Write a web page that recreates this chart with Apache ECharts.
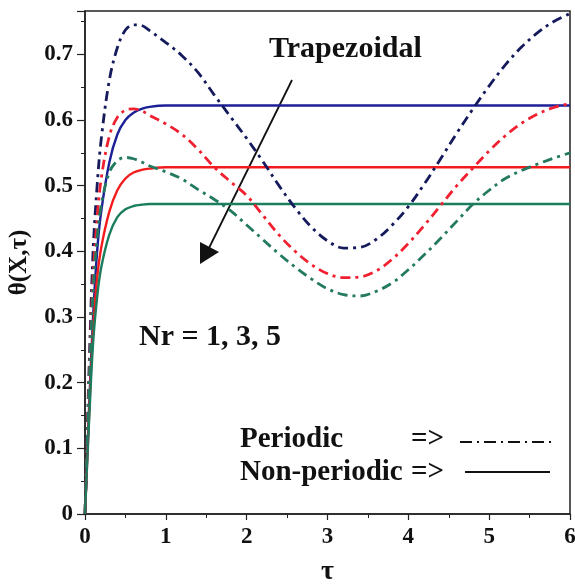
<!DOCTYPE html>
<html>
<head>
<meta charset="utf-8">
<script src="https://cdn.jsdelivr.net/npm/echarts@6/dist/echarts.min.js"></script>
<style>
  html, body { margin: 0; padding: 0; background: #fff; }
  #main { width: 575px; height: 586px; }
</style>
</head>
<body>
<div id="main"></div>
<script>
// tau values shared by every curve
var tau = [0, 0.05, 0.1, 0.15, 0.2, 0.3, 0.4, 0.5, 0.6, 0.7, 0.8, 1.0, 1.2, 1.4, 1.6, 1.8, 2.0, 2.2, 2.4, 2.6, 2.8, 3.0, 3.2, 3.4, 3.6, 3.8, 4.0, 4.2, 4.4, 4.6, 4.8, 5.0, 5.2, 5.4, 5.6, 5.8, 6.0];

// periodic (dash-dot), Nr = 1, 3, 5
var periodicBlue = [0, 0.22, 0.40, 0.50, 0.57, 0.66, 0.71, 0.737, 0.745, 0.744, 0.736, 0.718, 0.698, 0.672, 0.638, 0.605, 0.572, 0.537, 0.500, 0.466, 0.437, 0.416, 0.405, 0.406, 0.418, 0.440, 0.468, 0.503, 0.541, 0.580, 0.617, 0.652, 0.684, 0.711, 0.733, 0.750, 0.762];
var periodicRed = [0, 0.20, 0.36, 0.45, 0.51, 0.575, 0.604, 0.615, 0.617, 0.614, 0.607, 0.594, 0.578, 0.555, 0.528, 0.506, 0.485, 0.455, 0.425, 0.400, 0.380, 0.366, 0.360, 0.361, 0.370, 0.388, 0.412, 0.440, 0.470, 0.500, 0.527, 0.553, 0.576, 0.595, 0.609, 0.619, 0.625];
var periodicGreen = [0, 0.19, 0.34, 0.42, 0.47, 0.52, 0.538, 0.543, 0.541, 0.536, 0.530, 0.521, 0.510, 0.494, 0.479, 0.462, 0.440, 0.418, 0.396, 0.376, 0.358, 0.343, 0.334, 0.332, 0.339, 0.352, 0.372, 0.395, 0.420, 0.446, 0.472, 0.493, 0.511, 0.523, 0.533, 0.542, 0.550];

// non-periodic (solid), Nr = 1, 3, 5
var solidBlue = [0, 0.16, 0.30, 0.40, 0.46, 0.535, 0.578, 0.600, 0.611, 0.617, 0.620, 0.622, 0.622, 0.622, 0.622, 0.622, 0.622, 0.622, 0.622, 0.622, 0.622, 0.622, 0.622, 0.622, 0.622, 0.622, 0.622, 0.622, 0.622, 0.622, 0.622, 0.622, 0.622, 0.622, 0.622, 0.622, 0.622];
var solidRed = [0, 0.15, 0.28, 0.36, 0.405, 0.460, 0.493, 0.511, 0.520, 0.524, 0.526, 0.528, 0.528, 0.528, 0.528, 0.528, 0.528, 0.528, 0.528, 0.528, 0.528, 0.528, 0.528, 0.528, 0.528, 0.528, 0.528, 0.528, 0.528, 0.528, 0.528, 0.528, 0.528, 0.528, 0.528, 0.528, 0.528];
var solidGreen = [0, 0.14, 0.26, 0.33, 0.375, 0.425, 0.452, 0.464, 0.469, 0.471, 0.472, 0.472, 0.472, 0.472, 0.472, 0.472, 0.472, 0.472, 0.472, 0.472, 0.472, 0.472, 0.472, 0.472, 0.472, 0.472, 0.472, 0.472, 0.472, 0.472, 0.472, 0.472, 0.472, 0.472, 0.472, 0.472, 0.472];

var xTicks = [0, 1, 2, 3, 4, 5, 6];
var yTicks = ['0', '0.1', '0.2', '0.3', '0.4', '0.5', '0.6', '0.7'];

var serif = '"Liberation Serif", "DejaVu Serif", serif';
var dashDot = [10, 5, 3, 5];

function pairs(ys) {
    return tau.map(function (t, i) { return [t, ys[i]]; });
}

function curve(name, ys, color, dashed) {
    return {
        name: name,
        type: 'line',
        data: pairs(ys),
        smooth: 0.35,
        showSymbol: false,
        animation: false,
        z: dashed ? 3 : 2,
        lineStyle: {
            color: color,
            width: dashed ? 2.8 : 2.4,
            type: dashed ? dashDot : 'solid'
        }
    };
}

function label(text, x, y, size) {
    return {
        type: 'text', x: x, y: y,
        style: { text: text, font: 'bold ' + size + 'px ' + serif, fill: '#111', verticalAlign: 'middle' }
    };
}

var myChart = echarts.init(document.getElementById('main'));

var option = {
    backgroundColor: '#fff',
    animation: false,
    grid: {
        left: 85,
        right: 5,
        top: 11,
        bottom: 72,
        outerBoundsMode: 'none',
        containLabel: false,
        show: true,
        borderColor: '#222',
        borderWidth: 1.5,
        backgroundColor: '#fff'
    },
    xAxis: {
        type: 'value',
        min: 0,
        max: 6,
        interval: 1,
        name: 'τ',
        nameLocation: 'middle',
        nameGap: 44,
        nameTextStyle: { fontFamily: serif, fontWeight: 'bold', fontSize: 28, color: '#111' },
        axisLine: { lineStyle: { color: '#222', width: 1.5 } },
        axisTick: { length: 6, lineStyle: { color: '#222', width: 1.2 } },
        minorTick: { show: true, splitNumber: 2, length: 4, lineStyle: { color: '#222' } },
        splitLine: { show: false },
        axisLabel: {
            fontFamily: serif, fontWeight: 'bold', fontSize: 23, color: '#111', margin: 12,
            formatter: function (v) { return xTicks.indexOf(v) >= 0 ? String(v) : ''; }
        }
    },
    yAxis: {
        type: 'value',
        min: 0,
        max: 0.766,
        interval: 0.1,
        name: 'θ(X,τ)',
        nameLocation: 'middle',
        nameGap: 53,
        nameRotate: 90,
        nameTextStyle: { fontFamily: serif, fontWeight: 'bold', fontSize: 25, color: '#111' },
        axisLine: { show: true, lineStyle: { color: '#222', width: 1.5 } },
        axisTick: { show: true, length: 8, lineStyle: { color: '#222', width: 1.2 } },
        minorTick: { show: true, splitNumber: 2, length: 4, lineStyle: { color: '#222' } },
        splitLine: { show: false },
        axisLabel: {
            fontFamily: serif, fontWeight: 'bold', fontSize: 23, color: '#111', margin: 12,
            formatter: function (v) {
                var i = Math.round(v * 10);
                return Math.abs(v * 10 - i) < 1e-6 && yTicks[i] !== undefined ? yTicks[i] : '';
            }
        }
    },
    series: [
        curve('Nr=1 non-periodic', solidBlue, '#1c1f96', false),
        curve('Nr=3 non-periodic', solidRed, '#f21c1c', false),
        curve('Nr=5 non-periodic', solidGreen, '#1a7d5e', false),
        curve('Nr=1 periodic', periodicBlue, '#141a5c', true),
        curve('Nr=3 periodic', periodicRed, '#f02030', true),
        curve('Nr=5 periodic', periodicGreen, '#237a60', true)
    ],
    graphic: [
        label('Trapezoidal', 269, 49, 30),
        { type: 'line', shape: { x1: 292, y1: 80, x2: 209, y2: 248 }, style: { stroke: '#111', lineWidth: 1.8 } },
        { type: 'polygon', shape: { points: [[200, 264], [200, 242], [219, 252]] }, style: { fill: '#111' } },
        label('Nr = 1, 3, 5', 139, 337, 30),
        label('Periodic', 240, 440, 29),
        label('=>', 411, 440, 29),
        { type: 'line', shape: { x1: 460, y1: 442, x2: 554, y2: 442 }, style: { stroke: '#111', lineWidth: 1.8, lineDash: [12, 5, 2, 5] } },
        label('Non-periodic', 240, 473, 29),
        label('=>', 411, 473, 29),
        { type: 'line', shape: { x1: 465, y1: 472, x2: 550, y2: 472 }, style: { stroke: '#111', lineWidth: 1.8 } }
    ]
};

myChart.setOption(option);
</script>
</body>
</html>
